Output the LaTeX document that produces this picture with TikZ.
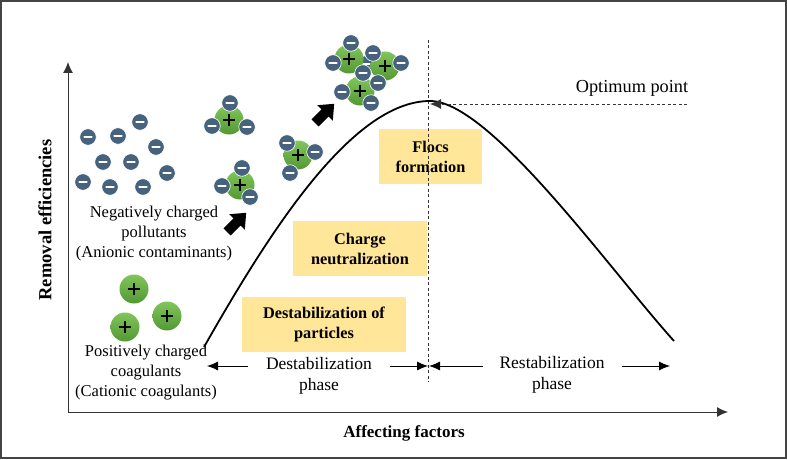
\documentclass[tikz,border=0pt]{standalone}
\usepackage{fontspec}
\setmainfont{Liberation Serif}
\usetikzlibrary{arrows.meta}
\definecolor{ion}{HTML}{46627C}
\definecolor{gtop}{HTML}{80C65A}
\definecolor{gbot}{HTML}{539834}
\definecolor{boxy}{HTML}{FFE699}
\definecolor{framec}{HTML}{444444}
\definecolor{axisc}{HTML}{333333}
\tikzset{
  negion/.style={circle, fill=ion, draw=white, line width=0.6pt, minimum size=16.5pt, inner sep=0pt,
    path picture={\draw[white, line width=2.4pt, line cap=round]
      ([xshift=-3.6pt]path picture bounding box.center) -- ([xshift=3.6pt]path picture bounding box.center);}},
  posion/.style={circle, top color=gtop, bottom color=gbot, draw=none, minimum size=29pt, inner sep=0pt,
    path picture={\draw[black, line width=1.3pt]
      ([xshift=-6pt]path picture bounding box.center) -- ([xshift=6pt]path picture bounding box.center)
      ([yshift=-6pt]path picture bounding box.center) -- ([yshift=6pt]path picture bounding box.center);}},
  ybox/.style={fill=boxy, inner sep=0pt, align=center, font=\fontsize{16.3}{20}\selectfont\bfseries},
  lbl/.style={align=center, inner sep=0pt, font=\fontsize{16.5}{20}\selectfont},
  phaselbl/.style={align=center, inner sep=0pt, font=\fontsize{17.5}{21}\selectfont},
  axlbl/.style={inner sep=0pt, font=\fontsize{17}{20}\selectfont\bfseries},
  axis/.style={draw=axisc, line width=1pt, -{Latex[length=11pt,width=10pt]}},
  phar/.style={draw=black, line width=0.8pt, -{Latex[length=11pt,width=9pt]}},
  vdash/.style={draw=axisc, line width=0.8pt, dash pattern=on 3pt off 2.5pt},
  curve/.style={draw=black, line width=1.8pt},
  barrow/.style={fill=black}
}
\begin{document}
\begin{tikzpicture}[x=1pt,y=-1pt]
\useasboundingbox (0,0) rectangle (787,460);
\draw[framec, line width=1.2pt] (1,1) rectangle (786,458);

% axes
\coordinate (O) at (68,412);
\coordinate (ytop) at (68,62);
\coordinate (xend) at (728,412);
\draw[axis] (O) -- (ytop);
\draw[axis] (O) -- (xend);
\node[axlbl, rotate=90, font=\fontsize{18.5}{20}\selectfont\bfseries] (ylab) at (45,220) {Removal efficiencies};
\node[axlbl] (xlab) at (404,433) {Affecting factors};

% boxes
\node[ybox, minimum width=103pt, minimum height=55pt] (flocs) at (430.5,156.5) {Flocs\\formation};
\node[ybox, minimum width=134pt, minimum height=55pt] (charge) at (360,248.5) {Charge\\neutralization};
\node[ybox, minimum width=164pt, minimum height=55pt] (destab) at (324,324.5) {Destabilization of\\particles};

% vertical dashed line
\coordinate (vt) at (428,40);
\coordinate (vb) at (428,382);
\draw[vdash] (vt) -- (vb);

% curve
\coordinate (cs) at (204,347);
\coordinate (peak) at (430,101);
\coordinate (ce) at (674,341);
\draw[curve] (cs) .. controls (265,240) and (350,101) .. (peak) .. controls (490,101) and (610,270) .. (ce);

% optimum
\node[lbl, font=\fontsize{18.3}{20}\selectfont] (opt) at (632,88) {Optimum point};
\coordinate (o1) at (687,104);
\coordinate (o2) at (430,104);
\draw[vdash, -{Latex[length=11pt,width=10pt]}] (o1) -- (o2);

% phase labels and arrows
\node[phaselbl] (dphase) at (319,376) {Destabilization\\phase};
\node[phaselbl] (rphase) at (552,375) {Restabilization\\phase};
\coordinate (dl1) at (248,366); \coordinate (dl2) at (207,366);
\coordinate (dr1) at (390,366); \coordinate (dr2) at (428,366);
\coordinate (rl1) at (483,366); \coordinate (rl2) at (429,366);
\coordinate (rr1) at (622,366); \coordinate (rr2) at (670,366);
\draw[phar] (dl1) -- (dl2);
\draw[phar] (dr1) -- (dr2);
\draw[phar] (rl1) -- (rl2);
\draw[phar] (rr1) -- (rr2);

% text labels
\node[lbl] (neglbl) at (154,234) {Negatively charged\\pollutants\\(Anionic contaminants)};
\node[lbl] (poslbl) at (146,373) {Positively charged\\coagulants\\(Cationic coagulants)};

% free negative ions
\foreach \x/\y [count=\i] in {140/122, 88/137, 118/136, 156/147, 103/162, 131/162, 167/173, 83/182, 110/187, 143/187}
  \node[negion] (fn\i) at (\x,\y) {};

% free positive coagulants
\node[posion] (fp1) at (134,289) {};
\node[posion] (fp2) at (167,316) {};
\node[posion] (fp3) at (125,327) {};

% complexes
\node[posion] (c1) at (229,120) {};
\node[negion] (c1a) at (230,103) {};
\node[negion] (c1b) at (212,126) {};
\node[negion] (c1c) at (247,127) {};

\node[posion] (c2) at (240,185) {};
\node[negion] (c2a) at (242,168) {};
\node[negion] (c2b) at (222,186) {};
\node[negion] (c2c) at (250,197) {};

\node[posion] (c3) at (298,155) {};
\node[negion] (c3a) at (287,143) {};
\node[negion] (c3b) at (315,152) {};
\node[negion] (c3c) at (290,173) {};

% floc
\node[negion] (fl0) at (366,64) {};
\node[posion] (flp1) at (349,59) {};
\node[posion] (flp2) at (385,66) {};
\node[posion] (flp3) at (360,91) {};
\foreach \x/\y [count=\i] in {351/43, 333/63, 373/53, 401/63, 363/73, 378/83, 342/92, 371/103}
  \node[negion] (fln\i) at (\x,\y) {};

% block arrows
\foreach \cx/\cy in {237/222, 325/113}
  \fill[barrow, shift={(\cx,\cy)}, rotate=45]
    (-14,-5) -- (0,-5) -- (0,-11) -- (13,0) -- (0,11) -- (0,5) -- (-14,5) -- cycle;
\end{tikzpicture}
\end{document}
